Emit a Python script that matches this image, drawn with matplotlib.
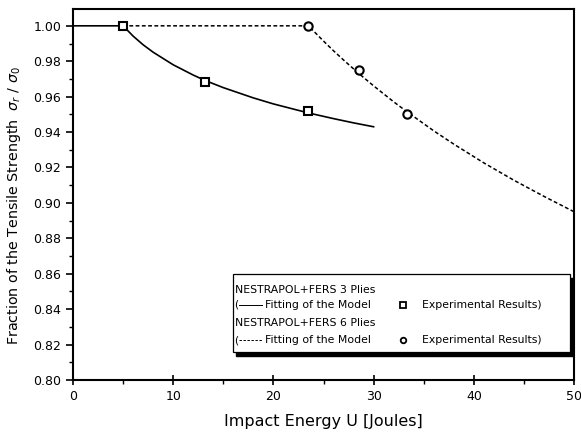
import matplotlib
matplotlib.use("Agg")
import matplotlib.pyplot as plt
from matplotlib.patches import Rectangle
from matplotlib.ticker import MultipleLocator, FormatStrFormatter

# 3 plies: model fit and experiments
FIT3_X = [0, 5, 6, 7, 8, 10, 12, 13.2, 15, 18, 20, 23.5, 26, 28, 30]
FIT3_Y = [1.0, 1.0, 0.9942, 0.9893, 0.9851, 0.978, 0.9722, 0.9691, 0.9651,
          0.9593, 0.9559, 0.9508, 0.9476, 0.9452, 0.943]
EXP3_X = [5, 13.2, 23.5]
EXP3_Y = [1.0, 0.968, 0.952]

# 6 plies: model fit and experiments
FIT6_X = [5, 23.5, 24, 25, 26, 27, 28.5, 30, 32, 33.3, 36, 38, 41, 44, 47, 50]
FIT6_Y = [1.0, 1.0, 0.9971, 0.9914, 0.9859, 0.9807, 0.9732, 0.9661, 0.9571,
          0.9516, 0.9407, 0.9332, 0.9226, 0.9128, 0.9037, 0.895]
EXP6_X = [23.5, 28.5, 33.3]
EXP6_Y = [1.0, 0.975, 0.950]

LEGEND_TITLES = ["NESTRAPOL+FERS 3 Plies", "NESTRAPOL+FERS 6 Plies"]

DASH = (0, (2.5, 1.6))

plt.rcParams["font.family"] = "DejaVu Sans"
fig = plt.figure(figsize=(5.81, 4.41), dpi=100)
ax = fig.add_axes([0.1256, 0.1383, 0.8624, 0.8413])

ax.plot(FIT3_X, FIT3_Y, color="black", lw=1.2)
ax.plot(FIT6_X, FIT6_Y, color="black", lw=1.1, linestyle=DASH)
ax.plot(EXP3_X, EXP3_Y, linestyle="none", marker="s", ms=6, mfc="white", mec="black", mew=1.5)
ax.plot(EXP6_X, EXP6_Y, linestyle="none", marker="o", ms=6, mfc="white", mec="black", mew=1.5)

ax.set_xlim(0, 50)
ax.set_ylim(0.80, 1.0095)
ax.xaxis.set_major_locator(MultipleLocator(10))
ax.xaxis.set_minor_locator(MultipleLocator(5))
ax.yaxis.set_major_locator(MultipleLocator(0.02))
ax.yaxis.set_minor_locator(MultipleLocator(0.01))
ax.yaxis.set_major_formatter(FormatStrFormatter("%.2f"))
ax.tick_params(axis="x", which="major", direction="inout", length=7, width=1.2, labelsize=9)
ax.tick_params(axis="x", which="minor", direction="out", length=3, width=1)
ax.tick_params(axis="y", which="major", direction="out", length=5, width=1.2, labelsize=9)
ax.tick_params(axis="y", which="minor", direction="out", length=3, width=1)
for side in ax.spines.values():
    side.set_linewidth(1.5)

ax.set_xlabel("Impact Energy U [Joules]", fontsize=11.5, labelpad=8)
ax.set_ylabel(r"Fraction of the Tensile Strength  $\sigma_r$ / $\sigma_0$", fontsize=10.3)
ax.yaxis.set_label_coords(-0.100, 0.469)

# legend box with a drop shadow, drawn by hand
x0, x1, y0, y1 = 0.319, 0.992, 0.0755, 0.2857
tr = ax.transAxes
ax.add_patch(Rectangle((x0 + 0.006, y0 - 0.011), x1 - x0, y1 - y0, transform=tr,
                       facecolor="black", edgecolor="black", zorder=5, clip_on=False))
ax.add_patch(Rectangle((x0, y0), x1 - x0, y1 - y0, transform=tr,
                       facecolor="white", edgecolor="black", lw=0.9, zorder=6, clip_on=False))

fs = 7.8
row_y = [0.2426, 0.2022, 0.1536, 0.1078]
tx = x0 + 0.004
for i, (name, ls, mk) in enumerate([(LEGEND_TITLES[0], "-", "s"), (LEGEND_TITLES[1], DASH, "o")]):
    ya = row_y[2 * i]
    yb = row_y[2 * i + 1]
    ax.text(tx, ya, name, transform=tr, fontsize=fs, va="center", ha="left", zorder=7)
    ax.text(tx - 0.002, yb, "(", transform=tr, fontsize=fs, va="center", ha="left", zorder=7)
    ax.plot([tx + 0.008, tx + 0.055], [yb, yb], transform=tr, color="black", lw=0.7,
            linestyle=ls, zorder=7, clip_on=False)
    ax.text(tx + 0.060, yb, "Fitting of the Model", transform=tr, fontsize=fs,
            va="center", ha="left", zorder=7)
    ax.plot([0.658], [yb], transform=tr, marker=mk, ms=4, mfc="white", mec="black",
            mew=1.3, zorder=7, clip_on=False)
    ax.text(0.697, yb, "Experimental Results)", transform=tr, fontsize=fs,
            va="center", ha="left", zorder=7)

fig.savefig("out.png", dpi=100, facecolor="white")
